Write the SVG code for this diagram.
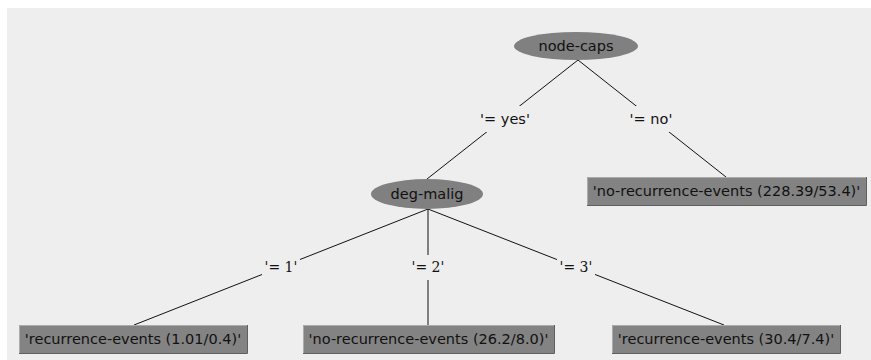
<svg xmlns="http://www.w3.org/2000/svg" width="871" height="360" viewBox="0 0 871 360">
<style>
.bg{fill:#eeeeee}
.ell{fill:#808080}
.box{fill:#838383}
.hl{stroke:#ababab;stroke-width:1;fill:none}
.sh{stroke:#5f5f5f;stroke-width:1;fill:none}
.t{font-family:"DejaVu Sans",sans-serif;font-size:14.5px;fill:#111;text-anchor:middle}
.ls{font-family:"DejaVu Sans",sans-serif;font-size:14.5px;fill:#111;text-anchor:middle}
.lr{font-family:"DejaVu Serif",serif;font-size:14px;fill:#111;text-anchor:middle}
.edge{stroke:#111;stroke-width:1;fill:none}
.lbg{fill:#eeeeee}
</style>
<rect class="bg" x="7" y="8" width="864" height="352"/>
<g id="connectors">
<line class="edge" x1="578" y1="60" x2="427" y2="179"/>
<line class="edge" x1="578" y1="60" x2="726" y2="177"/>
<line class="edge" x1="428" y1="209" x2="134" y2="325"/>
<line class="edge" x1="428" y1="209" x2="428" y2="325"/>
<line class="edge" x1="428" y1="209" x2="724" y2="325"/>
<rect class="lbg" x="476" y="106" width="58" height="26"/>
<text class="ls" x="505" y="124">'= yes'</text>
<rect class="lbg" x="627" y="106" width="48" height="26"/>
<text class="ls" x="651" y="124">'= no'</text>
<rect class="lbg" x="262" y="255" width="38" height="25"/>
<text class="lr" x="281" y="272">'= 1'</text>
<rect class="lbg" x="409" y="255" width="38" height="25"/>
<text class="lr" x="428" y="272">'= 2'</text>
<rect class="lbg" x="557" y="255" width="38" height="25"/>
<text class="lr" x="576" y="272">'= 3'</text>
</g>
<g id="node-caps">
<ellipse class="ell" cx="576" cy="46" rx="62" ry="14"/>
<text class="t" x="576" y="51">node-caps</text>
</g>
<g id="deg-malig">
<ellipse class="ell" cx="427" cy="194" rx="56" ry="15"/>
<text class="t" x="427" y="199">deg-malig</text>
</g>
<g id="leaf-no-caps">
<rect class="box" x="587" y="177" width="279" height="28"/>
<path class="hl" d="M587.5,205 V177.5 H866"/>
<path class="sh" d="M587,205.5 H866.5 V177"/>
<text class="t" x="726.5" y="196">'no-recurrence-events (228.39/53.4)'</text>
</g>
<g id="leaf-1">
<rect class="box" x="19" y="325" width="228" height="28"/>
<path class="hl" d="M19.5,353 V325.5 H247"/>
<path class="sh" d="M19,353.5 H247.5 V325"/>
<text class="t" x="133" y="344">'recurrence-events (1.01/0.4)'</text>
</g>
<g id="leaf-2">
<rect class="box" x="303" y="325" width="251" height="28"/>
<path class="hl" d="M303.5,353 V325.5 H554"/>
<path class="sh" d="M303,353.5 H554.5 V325"/>
<text class="t" x="428.5" y="344">'no-recurrence-events (26.2/8.0)'</text>
</g>
<g id="leaf-3">
<rect class="box" x="612" y="325" width="228" height="28"/>
<path class="hl" d="M612.5,353 V325.5 H840"/>
<path class="sh" d="M612,353.5 H840.5 V325"/>
<text class="t" x="726" y="344">'recurrence-events (30.4/7.4)'</text>
</g>
</svg>
